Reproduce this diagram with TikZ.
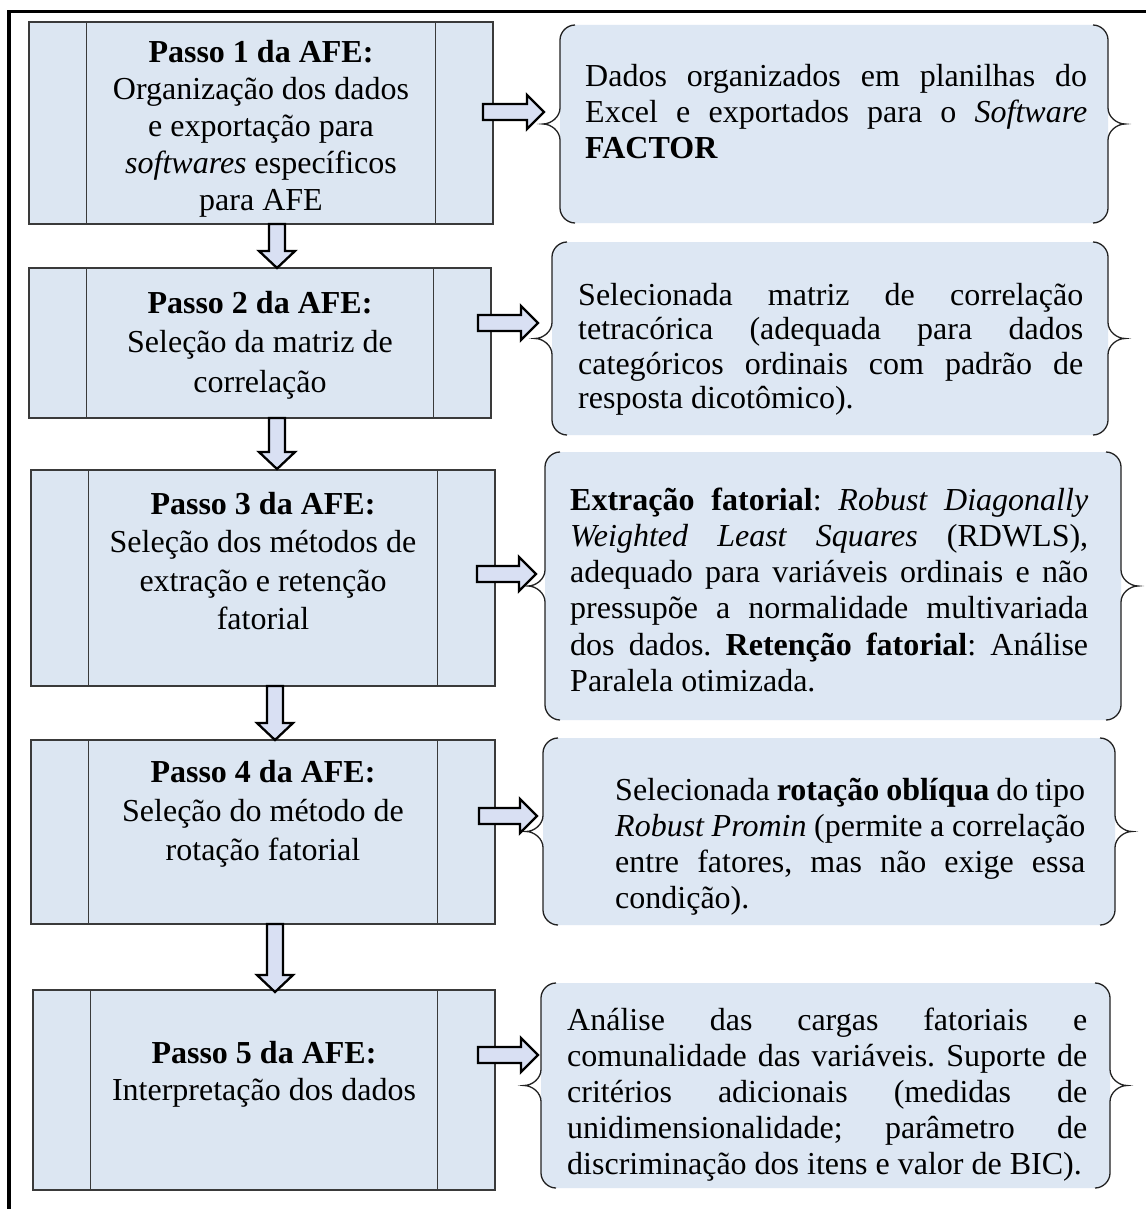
\documentclass[tikz,border=0pt]{standalone}
\usepackage{fontspec}
\setmainfont{Liberation Serif}
\usetikzlibrary{calc}
\frenchspacing

\definecolor{boxfill}{HTML}{DCE6F2}
\definecolor{callfill}{HTML}{DDE7F3}
\definecolor{arrfill}{HTML}{D9E0F3}
\definecolor{boxline}{HTML}{3A3A3A}
\definecolor{braceline}{HTML}{222222}

\newcommand\cw{500pt}
\newcommand\ns{\spaceskip=0pt\xspaceskip=0pt\relax}
\newcommand\rs{\spaceskip=\fontdimen2\font\xspaceskip=\fontdimen2\font\relax}
\newcommand\jl[1]{{\ns\frenchspacing\makebox[\cw][s]{#1}}}

% right block arrow: x0, x1, y
\newcommand\rarrow[3]{%
  \draw[blockarrow] (#1,#3-8) -- (#2-17,#3-8) -- (#2-17,#3-17) -- (#2,#3)
    -- (#2-17,#3+17) -- (#2-17,#3+8) -- (#1,#3+8) -- cycle;}
% down block arrow: x, y0, y1
\newcommand\darrow[3]{%
  \draw[blockarrow] (#1-8,#2) -- (#1-8,#3-17) -- (#1-18,#3-17) -- (#1,#3)
    -- (#1+18,#3-17) -- (#1+8,#3-17) -- (#1+8,#2) -- cycle;}
% double-brace callout: name, xl, xr, yt, yb
\newcommand\bracecallout[5]{%
  \coordinate (#1-m) at ($(#2,#4)!0.5!(#3,#5)$);
  \coordinate (#1-tipl) at ($(#2-17,#4)!0.5!(#2-17,#5)$);
  \coordinate (#1-tipr) at ($(#3+17,#4)!0.5!(#3+17,#5)$);
  \fill[callfill] (#2+15,#4) -- (#3-15,#4)
     .. controls (#3-7,#4) and (#3,#4+7) .. (#3,#4+15)
     -- (#3,#5-15) .. controls (#3,#5-7) and (#3-7,#5) .. (#3-15,#5)
     -- (#2+15,#5) .. controls (#2+7,#5) and (#2,#5-7) .. (#2,#5-15)
     -- (#2,#4+15) .. controls (#2,#4+7) and (#2+7,#4) .. (#2+15,#4) -- cycle;
  \draw[bracestyle] (#2+15,#4) .. controls (#2+7,#4) and (#2,#4+7) .. (#2,#4+15)
     -- ($(#1-m -| #2,#4) + (0,-16)$)
     .. controls ($(#1-m -| #2,#4) + (0,-7)$) and ($(#1-tipl) + (8,0)$) .. (#1-tipl)
     .. controls ($(#1-tipl) + (8,0)$) and ($(#1-m -| #2,#4) + (0,7)$) .. ($(#1-m -| #2,#4) + (0,16)$)
     -- (#2,#5-15) .. controls (#2,#5-7) and (#2+7,#5) .. (#2+15,#5);
  \draw[bracestyle] (#3-15,#4) .. controls (#3-7,#4) and (#3,#4+7) .. (#3,#4+15)
     -- ($(#1-m -| #3,#4) + (0,-16)$)
     .. controls ($(#1-m -| #3,#4) + (0,-7)$) and ($(#1-tipr) + (-8,0)$) .. (#1-tipr)
     .. controls ($(#1-tipr) + (-8,0)$) and ($(#1-m -| #3,#4) + (0,7)$) .. ($(#1-m -| #3,#4) + (0,16)$)
     -- (#3,#5-15) .. controls (#3,#5-7) and (#3-7,#5) .. (#3-15,#5);
}
% predefined-process side bars: node name
\newcommand\sidebars[1]{%
  \draw[boxline, line width=1.2] ([xshift=58]#1.north west) -- ([xshift=58]#1.south west)
    ([xshift=-58]#1.north east) -- ([xshift=-58]#1.south east);}

\begin{document}
\begin{tikzpicture}[x=1pt, y=-1pt,
  procbox/.style={draw=boxline, fill=boxfill, line width=1.2, rectangle, inner sep=0pt},
  blockarrow/.style={draw=black, fill=arrfill, line width=2.3, line join=miter},
  bracestyle/.style={draw=braceline, line width=1.3},
  boxtext/.style={text width=380, align=center, anchor=base, inner sep=0pt},
  calltext/.style={anchor=base west, inner sep=0pt, align=left}]
\useasboundingbox (0,0) rectangle (1146,1209);
\fill[white] (0,0) rectangle (1146,1209);

% outer frame (top and left)
\draw[line width=3.5] (9,1209) -- (9,11.5) -- (1146,11.5);

% ---------- left process boxes ----------
\node[procbox, minimum width=464, minimum height=202] (s1) at (261,123) {};
\node[procbox, minimum width=462, minimum height=150] (s2) at (260,343) {};
\node[procbox, minimum width=464, minimum height=216] (s3) at (263,578) {};
\node[procbox, minimum width=464, minimum height=184] (s4) at (263,832) {};
\node[procbox, minimum width=462, minimum height=200] (s5) at (264,1090) {};
\foreach \n in {s1,s2,s3,s4,s5} {\sidebars{\n}}

\node[boxtext, font=\fontsize{32}{36.8}\selectfont] (s1t) at (261,63)
  {\rs\textbf{Passo 1 da AFE:}\\ Organização dos dados\\ e exportação para\\ \textit{softwares} específicos\\ para AFE};
\node[boxtext, font=\fontsize{32}{39.5}\selectfont] (s2t) at (260,313)
  {\rs\textbf{Passo 2 da AFE:}\\ Seleção da matriz de\\ correlação};
\node[boxtext, font=\fontsize{32}{38.5}\selectfont] (s3t) at (263,514)
  {\rs\textbf{Passo 3 da AFE:}\\ Seleção dos métodos de\\ extração e retenção\\ fatorial};
\node[boxtext, font=\fontsize{32}{39}\selectfont] (s4t) at (263,782)
  {\rs\textbf{Passo 4 da AFE:}\\ Seleção do método de\\ rotação fatorial};
\node[boxtext, font=\fontsize{32}{37}\selectfont] (s5t) at (264,1063)
  {\rs\textbf{Passo 5 da AFE:}\\ Interpretação dos dados};

% ---------- down arrows ----------
\darrow{277}{224}{268}
\darrow{277}{418}{469}
\darrow{275}{686}{740}
\darrow{275}{924}{992}

% ---------- callouts ----------
\bracecallout{c1}{560}{1108}{25}{223}
\bracecallout{c2}{552}{1108}{242}{435}
\bracecallout{c3}{545}{1121}{452}{720}
\bracecallout{c4}{543}{1115}{738}{925}
\bracecallout{c5}{541}{1110}{983}{1188}

% ---------- right arrows ----------
\rarrow{483}{544}{112}
\rarrow{478}{538}{323}
\rarrow{477}{536}{574}
\rarrow{479}{537}{816}
\rarrow{478}{538}{1055}

% ---------- callout texts ----------
\node[calltext, text width=502, font=\fontsize{32}{36}\selectfont\renewcommand\cw{502pt}] (c1t) at (585,87)
  {\rs\jl{Dados organizados em planilhas do}\\
   \jl{Excel e exportados para o \textit{Software}}\\
   \textbf{FACTOR}};
\node[calltext, text width=505, font=\fontsize{32}{34.5}\selectfont\renewcommand\cw{505pt}] (c2t) at (578,305)
  {\rs\jl{Selecionada matriz de correlação}\\
   \jl{tetracórica (adequada para dados}\\
   \jl{categóricos ordinais com padrão de}\\
   resposta dicotômico).};
\node[calltext, text width=518, font=\fontsize{32}{36.3}\selectfont\renewcommand\cw{518pt}] (c3t) at (570,510)
  {\rs\jl{\textbf{Extração fatorial}: \textit{Robust Diagonally}}\\
   \jl{\textit{Weighted Least Squares} (RDWLS),}\\
   \jl{adequado para variáveis ordinais e não}\\
   \jl{pressupõe a normalidade multivariada}\\
   \jl{dos dados. \textbf{Retenção fatorial}: Análise}\\
   Paralela otimizada.};
\node[calltext, text width=470, font=\fontsize{32}{36}\selectfont\renewcommand\cw{470pt}] (c4t) at (615,800)
  {\rs\jl{Selecionada \textbf{rotação oblíqua} do tipo}\\
   \jl{\textit{Robust Promin} (permite a correlação}\\
   \jl{entre fatores, mas não exige essa}\\
   condição).};
\node[calltext, text width=522, font=\fontsize{32}{36}\selectfont\renewcommand\cw{520pt}] (c5t) at (567,1030)
  {\rs\jl{Análise das cargas fatoriais e}\\
   \jl{comunalidade das variáveis. Suporte de}\\
   \jl{critérios adicionais (medidas de}\\
   \jl{unidimensionalidade; parâmetro de}\\
   discriminação dos itens e valor de BIC).};
\end{tikzpicture}
\end{document}
